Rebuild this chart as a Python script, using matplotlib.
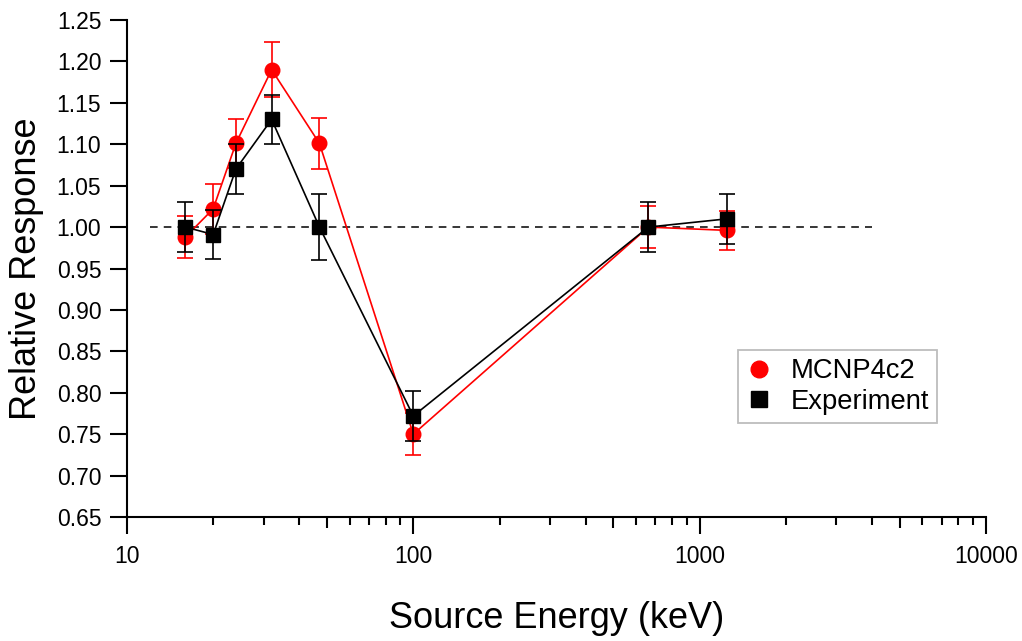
import matplotlib
matplotlib.use("Agg")
import matplotlib.pyplot as plt
from matplotlib.lines import Line2D
from matplotlib.ticker import FixedLocator, NullFormatter, FuncFormatter

plt.rcParams['font.family'] = ['Liberation Sans', 'DejaVu Sans']

# Source energies (keV)
energy = [16, 20, 24, 32, 47, 100, 662, 1250]

# MCNP4c2 simulated relative response and uncertainty
mcnp = [0.988, 1.022, 1.101, 1.190, 1.101, 0.750, 1.000, 0.996]
mcnp_err = [0.025, 0.030, 0.030, 0.033, 0.031, 0.025, 0.025, 0.024]

# Measured relative response and uncertainty
expt = [1.000, 0.991, 1.070, 1.130, 1.000, 0.772, 1.000, 1.010]
expt_err = [0.030, 0.030, 0.030, 0.030, 0.040, 0.030, 0.030, 0.030]

ref_level = 1.0
ref_span = [12, 4000]

y_ticks = [0.65, 0.70, 0.75, 0.80, 0.85, 0.90, 0.95, 1.00, 1.05, 1.10, 1.15, 1.20, 1.25]
x_ticks = [10, 100, 1000, 10000]

fig = plt.figure(figsize=(10.22, 6.41), dpi=100)
W, H = 1022, 641
ax = fig.add_axes([127 / W, 1 - 517 / H, (986 - 127) / W, (517 - 20) / H])

ax.plot(ref_span, [ref_level, ref_level], color='black', lw=1.1,
        dashes=(5, 4), zorder=1)

ax.errorbar(energy, mcnp, yerr=mcnp_err, color='red', lw=1.2,
            marker='o', ms=10.5, mec='red', mfc='red',
            elinewidth=1.2, capsize=6, capthick=1.2, zorder=2)
ax.errorbar(energy, expt, yerr=expt_err, color='black', lw=1.2,
            marker='s', ms=9.5, mec='black', mfc='black',
            elinewidth=1.2, capsize=6, capthick=1.2, zorder=3)

ax.set_xscale('log')
ax.set_xlim(10, 10000)
ax.set_ylim(0.65, 1.25)

for side in ('top', 'right'):
    ax.spines[side].set_visible(False)
for side in ('left', 'bottom'):
    ax.spines[side].set_linewidth(1.5)

ax.set_yticks(y_ticks)
ax.yaxis.set_major_formatter(FuncFormatter(lambda v, p: f"{v:.2f}"))
ax.xaxis.set_major_locator(FixedLocator(x_ticks))
ax.xaxis.set_major_formatter(FuncFormatter(lambda v, p: f"{v:.0f}"))
minor = [m * 10 ** d for d in (1, 2, 3) for m in (2, 3, 4, 6, 7, 8, 9)]
ax.xaxis.set_minor_locator(FixedLocator(minor))
ax.xaxis.set_minor_formatter(NullFormatter())

ax.tick_params(axis='both', which='major', direction='out', length=12,
               width=1.5, labelsize=16.5, pad=6.5)
ax.tick_params(axis='x', which='major', pad=8)
ax.tick_params(axis='x', which='minor', direction='out', length=5.8, width=1.5)

# medium-length ticks at the half-decades
half = ax.secondary_xaxis('bottom')
half.set_xticks([50, 500, 5000])
half.set_xticklabels([])
half.tick_params(which='both', direction='out', length=8, width=1.5)
half.xaxis.set_minor_locator(FixedLocator([]))
half.spines['bottom'].set_visible(False)

ax.set_xlabel('Source Energy (keV)', fontsize=26)
ax.xaxis.set_label_coords(0.5, (517 - 618) / 497)
ax.xaxis.label.set_va('center')
ax.set_ylabel('Relative Response', fontsize=26)
ax.yaxis.set_label_coords((27 - 127) / 859, 0.5)
ax.yaxis.label.set_va('center')

handles = [
    Line2D([], [], ls='none', marker='o', ms=12, color='red'),
    Line2D([], [], ls='none', marker='s', ms=11.5, color='black'),
]
leg = ax.legend(handles, ['MCNP4c2', 'Experiment'], loc='upper left',
                bbox_to_anchor=((738 - 127) / 859, (517 - 350) / 497),
                borderaxespad=0, fontsize=19.7, frameon=True, fancybox=False,
                edgecolor='#bdbdbd', framealpha=1, handlelength=0.9,
                handletextpad=0.72, borderpad=0.3, labelspacing=0.17)
leg.get_frame().set_linewidth(1.3)

fig.savefig('out.png', dpi=100)
